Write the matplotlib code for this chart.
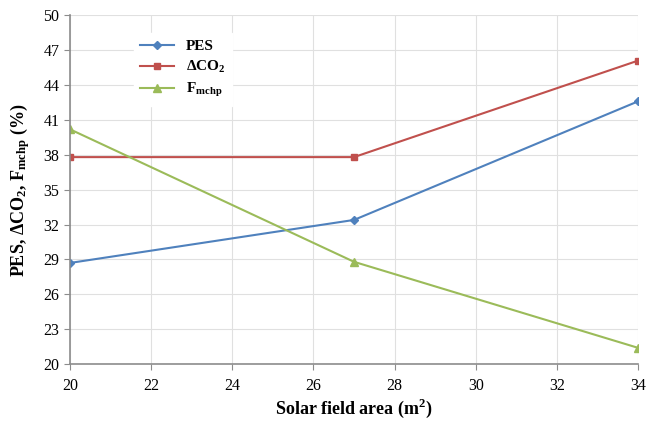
import matplotlib
matplotlib.use("Agg")
import matplotlib.pyplot as plt

# data
area = [20, 27, 34]
pes = [28.7, 32.4, 42.6]
dco2 = [37.8, 37.8, 46.1]
fmchp = [40.2, 28.8, 21.4]

plt.rcParams['font.family'] = ['Liberation Serif', 'DejaVu Serif']
plt.rcParams['mathtext.fontset'] = 'custom'
plt.rcParams['mathtext.rm'] = 'Liberation Serif'
plt.rcParams['mathtext.bf'] = 'Liberation Serif:bold'

fig = plt.figure(figsize=(6.46, 4.22), dpi=100)
ax = fig.add_axes([0.108, 0.137, 0.88, 0.827])

ax.plot(area, pes, color='#4F81BD', marker='D', markersize=4, lw=1.5, label='PES')
ax.plot(area, dco2, color='#C0504D', marker='s', markersize=5, lw=1.5, label=r'$\mathbf{\Delta CO_2}$')
ax.plot(area, fmchp, color='#9BBB59', marker='^', markersize=6, lw=1.5, label=r'$\mathbf{F_{mchp}}$')

ax.set_xlim(20, 34)
ax.set_ylim(20, 50)
ax.set_xticks(range(20, 35, 2))
ax.set_yticks(range(20, 51, 3))
ax.grid(True, color='#E0E0E0', lw=0.8)
ax.set_axisbelow(True)
for s in ['top', 'right']:
    ax.spines[s].set_visible(False)
for s in ['left', 'bottom']:
    ax.spines[s].set_color('#8C8C8C')
    ax.spines[s].set_linewidth(1.2)
ax.tick_params(colors='#8C8C8C', labelcolor='black', labelsize=11.5, length=4)
ax.tick_params(axis='x', pad=6)

ax.set_xlabel(r'Solar field area (m$^\mathbf{2}$)', fontsize=13, fontweight='bold', labelpad=2)
ax.set_ylabel(r'PES, $\mathbf{\Delta CO_2}$, $\mathbf{F_{mchp}}$ (%)', fontsize=13, fontweight='bold', labelpad=8)

leg = ax.legend(loc='upper left', bbox_to_anchor=(0.1, 0.97), frameon=True, fancybox=False,
                edgecolor='white', framealpha=1, prop={'weight': 'bold', 'size': 11},
                handlelength=2.2, labelspacing=0.4)

fig.savefig('out.png', dpi=100)
